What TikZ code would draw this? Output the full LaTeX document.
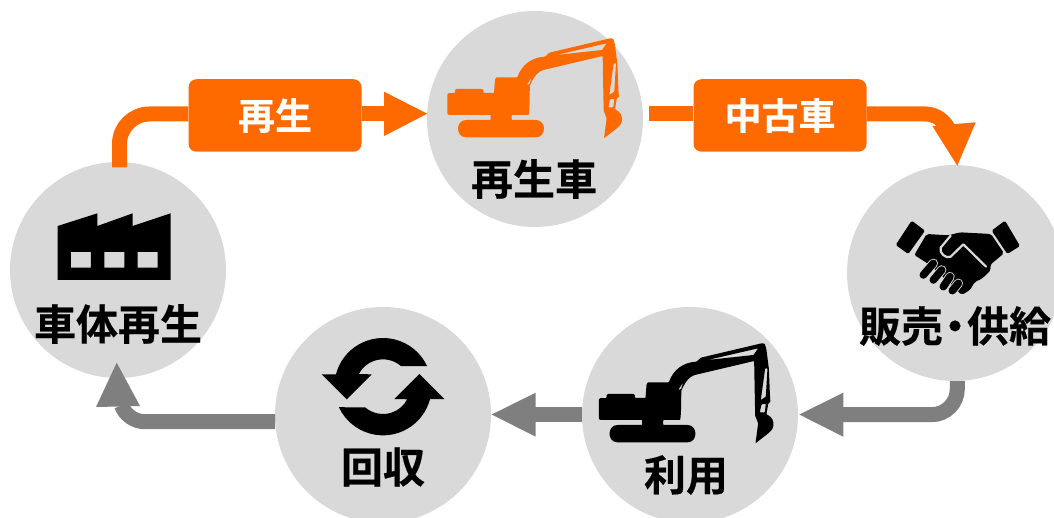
\documentclass[tikz,border=0pt]{standalone}
\usepackage{fontspec}
\setmainfont{Noto Sans CJK JP}[BoldFont={Noto Sans CJK JP Bold},BoldFeatures={FakeBold=0.4}]
\definecolor{cgrey}{HTML}{D9D9D9}
\definecolor{corange}{HTML}{FF6A00}
\definecolor{cline}{HTML}{7F7F7F}
\newcommand{\excav}[1]{%
 \fill[#1,even odd rule,rounded corners=0.6pt]
 (52,225) .. controls (52,220) and (55,219) .. (75,219) -- (75,212) .. controls (76,207) and (78,207) .. (82,207)
 -- (155,207) .. controls (160,208) and (160,212) .. (161,219) -- (192,219) -- (195,180) .. controls (197,172) and (200,172) .. (205,172)
 -- (262,172) .. controls (275,135) and (305,112) .. (345,110) -- (358,98) -- (468,72) -- (540,55) -- (550,56) -- (555,75)
 -- (562,130) -- (566,225) -- (568,228) -- (560,237) -- (555,268) .. controls (572,275) and (578,290) .. (575,305)
 .. controls (572,318) and (560,325) .. (522,355) -- (530,295) -- (521,272) -- (518,108) -- (340,150)
 .. controls (325,155) and (315,165) .. (300,195) .. controls (298,230) and (300,260) .. (296,285) -- (245,285) -- (245,300)
 -- (316,300) .. controls (350,300) and (350,352) .. (316,352) -- (110,352) .. controls (76,352) and (76,300) .. (110,300)
 -- (182,300) -- (182,285) -- (60,285) .. controls (54,285) and (52,282) .. (52,278) -- cycle
 (378,105) -- (530,70) -- (516,90) -- cycle
 (551,130) -- (558,130) -- (553,215) -- (538,225) -- cycle
 (540,238) -- (553,236) -- (550,262) -- (535,262) -- cycle
 (290,195) -- (305,172) -- (299,192) -- cycle;
}
\tikzset{
 disc/.style={circle,fill=cgrey,minimum size=216pt,inner sep=0pt},
 lab/.style={font=\bfseries\fontsize{42pt}{42pt}\selectfont,text=black,inner sep=0pt},
 tag/.style={draw=none,fill=corange,rounded corners=8pt,minimum width=173pt,minimum height=72.5pt,inner sep=0pt,
   text=white,font=\bfseries\fontsize{37pt}{37pt}\selectfont},
 oline/.style={draw=corange,line width=15pt},
 gline/.style={draw=cline,line width=15pt},
}
\begin{document}
\begin{tikzpicture}[x=1pt,y=-1pt]
\useasboundingbox (0,0) rectangle (1054,518);
\begin{scope}
\clip (0,0) rectangle (1054,518);
\node[disc] (dtop) at (535,119) {};
\node[disc] (dleft) at (118,270) {};
\node[disc] (dright) at (955,273) {};
\node[disc] (duse) at (690,415) {};
\node[disc] (dback) at (383,415) {};
\end{scope}
% orange connectors
\node[tag] (t1) at (275,115.5) {再生};
\node[tag] (t2) at (780,115.5) {中古車};
\coordinate (a1) at (119.5,167.5);
\coordinate (a2) at (385,114);
\coordinate (a3) at (649,114);
\coordinate (a4) at (950,132);
\draw[oline] (a1) -- (119.5,144) arc[start angle=180,end angle=270,radius=30] -- (t1.west |- a2);
\draw[oline] (t1.east |- a2) -- (a2);
\draw[oline] (a3) -- (t2.west |- a3);
\draw[oline] (t2.east |- a3) -- (925,114) .. controls (935,114) and (945,120) .. (a4);
\fill[corange] (384,91.7) -- (427.3,113.7) -- (384,136) -- cycle;
\fill[corange] (932.3,126) -- (975.7,122.3) -- (957.3,165.7) -- cycle;
% grey connectors
\coordinate (g1) at (957.3,381);
\coordinate (g2) at (843,414.7);
\draw[gline] (g1) -- (957.3,389) arc[start angle=0,end angle=90,radius=25.7] -- (g2);
\fill[cline] (843.3,392.7) -- (799.3,414.5) -- (843.3,436.7) -- cycle;
\coordinate (g3) at (582.3,414.7);
\coordinate (g4) at (535,414.7);
\draw[gline] (g3) -- (g4);
\fill[cline] (535.7,392.7) -- (491.7,414.5) -- (535.7,436.7) -- cycle;
\coordinate (g5) at (275,421.7);
\coordinate (g6) at (145,421.7);
\draw[gline] (g5) -- (g6) arc[start angle=90,end angle=160,radius=25];
\fill[cline] (96,407) -- (116.7,362.7) -- (140,406) -- cycle;
% excavators
\begin{scope}[shift={(430,20)},x=0.3333pt,y=-0.3333pt]\excav{corange}\end{scope}
\begin{scope}[shift={(581.5,325)},x=0.3333pt,y=-0.3333pt]\excav{black}\end{scope}
% factory
\begin{scope}[shift={(40,200)},x=0.3333pt,y=-0.3333pt]
\fill[black,even odd rule] (53,78) -- (172,40) -- (172,78) -- (278,40) -- (278,78) -- (392,40) -- (392,240) -- (53,240) -- cycle
 (93,156) rectangle (153,203) (193,156) rectangle (253,203) (293,156) rectangle (353,203);
\end{scope}
% handshake
\begin{scope}[shift={(880,210)},x=0.3333pt,y=-0.3333pt]
\fill[black,rounded corners=1.5pt] (95,32) -- (135,62) -- (85,132) -- (47,105) -- cycle;
\fill[black,rounded corners=1.5pt] (375,32) -- (335,62) -- (382,132) -- (420,108) -- cycle;
\fill[black,rounded corners=2pt] (140,72) -- (205,76) -- (240,67) -- (333,72) -- (372,130) -- (330,165) -- (333,180) -- (305,207) -- (285,215) -- (270,240) -- (245,255) -- (225,235) -- (150,165) -- (103,135) -- cycle;
\draw[cgrey,line width=2.2pt,line cap=round,line join=round] (212,77) -- (182,113) .. controls (176,128) and (198,148) .. (212,140) -- (250,103) -- (318,170);
\foreach \xa/\ya/\xb/\yb in {160/160/130/195,185/180/160/210,210/200/190/230,235/220/217/242}{
 \draw[cgrey,line width=9.4pt,line cap=round] (\xa,\ya) -- (\xb,\yb);
}
\foreach \xa/\ya/\xb/\yb in {160/160/130/195,185/180/160/210,210/200/190/230,235/220/217/242}{
 \draw[black,line width=7.6pt,line cap=round] (\xa,\ya) -- (\xb,\yb);
}
\end{scope}
% recycle
\begin{scope}[shift={(383,386.67)},x=0.3333pt,y=-0.3333pt]
\fill[black] (194.7:146) arc[start angle=194.7,end angle=335,radius=146] -- (311:82) arc[start angle=311,end angle=207.5,radius=82] -- (-34,-37) -- (-109,38) -- (-184,-37) -- cycle;
\begin{scope}[rotate=180]
\fill[black] (194.7:146) arc[start angle=194.7,end angle=335,radius=146] -- (311:82) arc[start angle=311,end angle=207.5,radius=82] -- (-34,-37) -- (-109,38) -- (-184,-37) -- cycle;
\end{scope}
\end{scope}
% labels
\node[lab] (l1) at (534,179) {再生車};
\node[lab] (l2) at (118,324) {車体再生};
\node[lab] (l3) at (955,326) {販売\kern-9pt・\kern-9pt 供給};
\node[lab] (l4) at (686,475) {利用};
\node[lab] (l5) at (383,467) {回収};
\end{tikzpicture}
\end{document}
